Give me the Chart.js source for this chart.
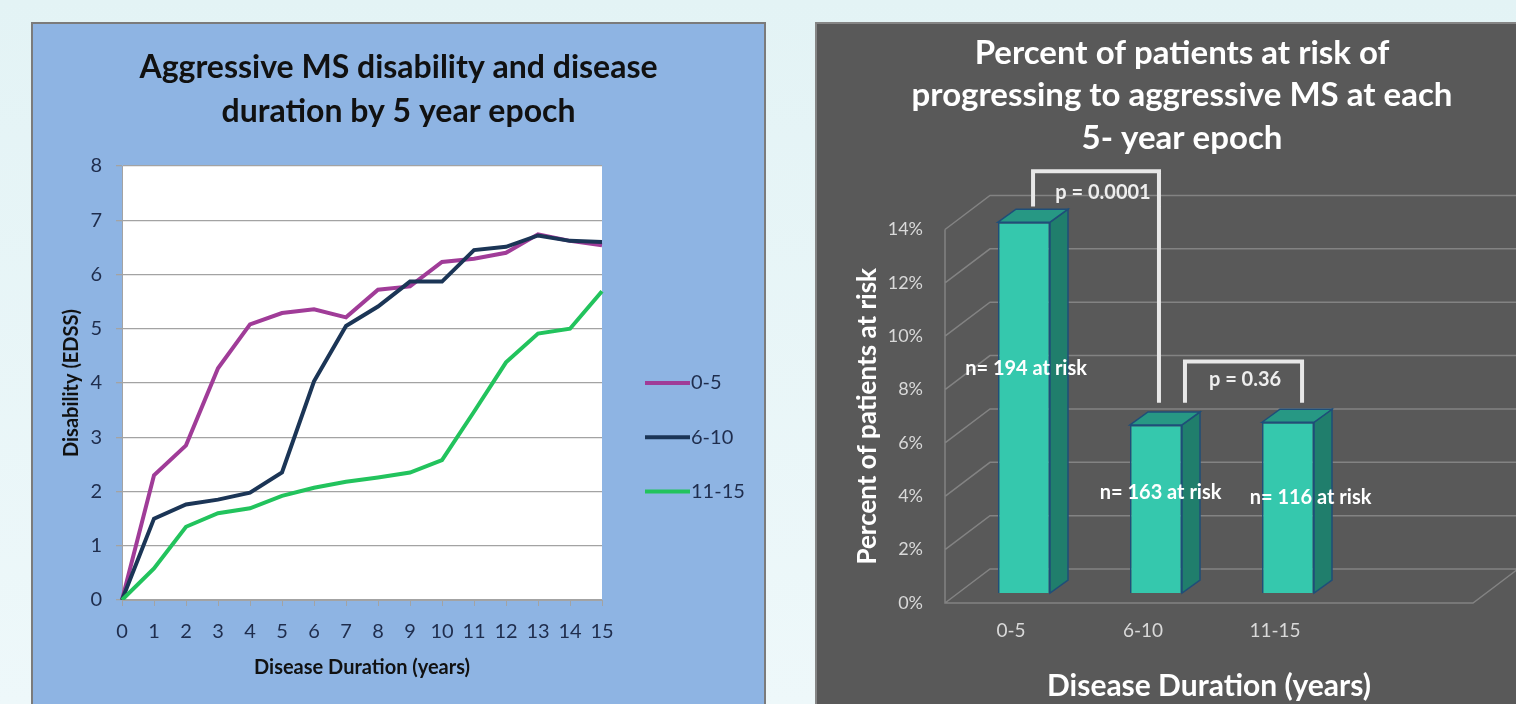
<!DOCTYPE html>
<html>
<head>
<meta charset="utf-8">
<script src="https://cdn.jsdelivr.net/npm/chart.js@4.4.1/dist/chart.umd.min.js"></script>
<style>
  html, body { margin: 0; padding: 0; width: 1516px; height: 704px; overflow: hidden;
    background: linear-gradient(to bottom, #e3f3f5 0%, #eef8fa 100%); }
  #leftPanel { position: absolute; left: 31px; top: 22px; width: 731px; height: 700px;
    background: #8eb4e3; border: 2px solid #7b7b7b; overflow: hidden; }
  #rightPanel { position: absolute; left: 815px; top: 22px; width: 760px; height: 700px;
    background: #595959; border: 2px solid #858585; overflow: hidden; }
  canvas { position: absolute; left: 0; top: 0; }
</style>
</head>
<body>
<div id="leftPanel"><canvas id="lineChart" width="731" height="680"></canvas></div>
<div id="rightPanel"><canvas id="barChart" width="730" height="680"></canvas></div>
<script>
// left chart: disability (EDSS) by disease duration, one line per epoch
var years = ["0", "1", "2", "3", "4", "5", "6", "7", "8", "9", "10", "11", "12", "13", "14", "15"];
var epoch0to5 = [0, 2.30, 2.85, 4.27, 5.08, 5.29, 5.36, 5.21, 5.72, 5.78, 6.23, 6.29, 6.40, 6.74, 6.62, 6.54];
var epoch6to10 = [0, 1.50, 1.76, 1.85, 1.98, 2.35, 4.03, 5.05, 5.41, 5.87, 5.87, 6.45, 6.51, 6.72, 6.62, 6.60];
var epoch11to15 = [0, 0.58, 1.35, 1.60, 1.69, 1.92, 2.07, 2.18, 2.26, 2.35, 2.58, 3.47, 4.38, 4.91, 5.00, 5.69];

// right chart: percent at risk per epoch
var riskGroups = ["0-5", "6-10", "11-15", ""];
var percentAtRisk = [13.9, 6.3, 6.4, null];
var atRiskCounts = [194, 163, 116];
var pValues = ["0.0001", "0.36"];

var FONT = "Lato, 'DejaVu Sans', sans-serif";
Chart.defaults.font.family = FONT;

var plotBackground = {
    id: "plotBackground",
    beforeDraw: function(chart) {
        var a = chart.chartArea, ctx = chart.ctx;
        ctx.save();
        ctx.fillStyle = "#ffffff";
        ctx.fillRect(a.left, a.top, a.right - a.left, a.bottom - a.top);
        ctx.restore();
    }
};

var tickColor = "#1f2d4d";
var gridGrey = "#a3a3a3";

// legend drawn next to the plot, rows lined up with the 4 / 3 / 2 gridlines
var sideLegend = {
    id: "sideLegend",
    afterDraw: function(chart) {
        var ctx = chart.ctx, a = chart.chartArea, ys = chart.scales.y;
        ctx.save();
        ctx.font = "20px " + FONT;
        ctx.textBaseline = "middle";
        ctx.textAlign = "left";
        chart.data.datasets.forEach(function(ds, i) {
            var py = ys.getPixelForValue(4 - i);
            ctx.strokeStyle = ds.borderColor;
            ctx.lineWidth = 4;
            ctx.beginPath();
            ctx.moveTo(a.right + 43, py);
            ctx.lineTo(a.right + 88, py);
            ctx.stroke();
            ctx.fillStyle = tickColor;
            ctx.fillText(ds.label, a.right + 89, py);
        });
        ctx.restore();
    }
};

new Chart(document.getElementById("lineChart").getContext("2d"), {
    type: "line",
    data: {
        labels: years,
        datasets: [
            { label: "0-5", data: epoch0to5, borderColor: "#a03c98", order: 3 },
            { label: "6-10", data: epoch6to10, borderColor: "#1b3556", order: 2 },
            { label: "11-15", data: epoch11to15, borderColor: "#22c35d", order: 1 }
        ]
    },
    options: {
        responsive: false,
        animation: false,
        elements: {
            line: { borderWidth: 4, tension: 0 },
            point: { radius: 0 }
        },
        plugins: {
            title: {
                display: true,
                text: ["Aggressive MS disability and disease", "duration by 5 year epoch"],
                color: "#111111",
                font: { size: 32, weight: "bold", lineHeight: 44 / 32 },
                padding: { top: 22, bottom: 32 }
            },
            legend: { display: false },
            tooltip: { enabled: false }
        },
        scales: {
            x: {
                grid: { drawOnChartArea: false, tickLength: 6, color: gridGrey },
                border: { color: gridGrey },
                ticks: { color: tickColor, font: { size: 20 }, padding: 14, maxRotation: 0, autoSkip: false },
                title: {
                    display: true, text: "Disease Duration (years)", color: "#111111",
                    font: { size: 20, weight: "bold" }, padding: { top: 0, bottom: 24 }
                },
                afterFit: function(s) { s.height = 104; }
            },
            y: {
                min: 0,
                max: 8,
                ticks: { stepSize: 1, color: tickColor, font: { size: 20 }, padding: 14 },
                grid: { tickLength: 6, color: gridGrey, lineWidth: 1.3 },
                border: { color: gridGrey },
                title: {
                    display: true, text: "Disability (EDSS)", color: "#111111",
                    font: { size: 20, weight: "bold" }, padding: { top: 27, bottom: 0 }
                },
                afterFit: function(s) { s.width = 89; }
            },
            legendSpace: {
                position: "right",
                grid: { display: false, drawTicks: false },
                border: { display: false },
                ticks: { display: false },
                afterFit: function(s) { s.width = 162; }
            }
        }
    },
    plugins: [plotBackground, sideLegend]
});

// 3d look for the bar chart
var wallDepth = { dx: 45, dy: -34 };
var barShift = { dx: 13, dy: -10 };
var barDepth = { dx: 18, dy: -13 };

var threeD = {
    id: "threeD",
    beforeDatasetsDraw: function(chart) {
        var ctx = chart.ctx, a = chart.chartArea, y = chart.scales.y;
        ctx.save();
        ctx.strokeStyle = "#838383";
        ctx.lineWidth = 1.5;
        ctx.beginPath();
        y.ticks.forEach(function(t) {
            var py = y.getPixelForValue(t.value);
            ctx.moveTo(a.left, py);
            ctx.lineTo(a.left + wallDepth.dx, py + wallDepth.dy);
            ctx.lineTo(chart.width, py + wallDepth.dy);
        });
        ctx.moveTo(a.left, a.top);
        ctx.lineTo(a.left, a.bottom);
        ctx.lineTo(a.right, a.bottom);
        ctx.lineTo(a.right + wallDepth.dx, a.bottom + wallDepth.dy);
        ctx.stroke();
        ctx.restore();

        ctx.save();
        ctx.translate(barShift.dx, barShift.dy);
    },
    afterDatasetsDraw: function(chart) {
        var ctx = chart.ctx;
        var values = chart.data.datasets[0].data;
        chart.getDatasetMeta(0).data.forEach(function(bar, i) {
            if (values[i] == null) return;
            var l = bar.x - bar.width / 2, r = bar.x + bar.width / 2, t = bar.y, b = bar.base;
            ctx.lineWidth = 1.5;
            ctx.strokeStyle = "#1f4e79";

            ctx.beginPath();
            ctx.moveTo(r, t);
            ctx.lineTo(r + barDepth.dx, t + barDepth.dy);
            ctx.lineTo(r + barDepth.dx, b + barDepth.dy);
            ctx.lineTo(r, b);
            ctx.closePath();
            ctx.fillStyle = "#207e6c";
            ctx.fill();
            ctx.stroke();

            ctx.beginPath();
            ctx.moveTo(l, t);
            ctx.lineTo(l + barDepth.dx, t + barDepth.dy);
            ctx.lineTo(r + barDepth.dx, t + barDepth.dy);
            ctx.lineTo(r, t);
            ctx.closePath();
            ctx.fillStyle = "#279884";
            ctx.fill();
            ctx.stroke();
        });
        ctx.restore();
    }
};

// brackets and text boxes, placed in category / value units
var brackets = [
    { from: 0.167, to: 1.121, top: 16.18, leftEnd: 14.86, rightEnd: 7.51, textX: 0.697, textY: 15.4, p: 0 },
    { from: 1.318, to: 2.205, top: 9.05, leftEnd: 7.51, rightEnd: 7.51, textX: 1.773, textY: 8.37, p: 1 }
];
var riskLabelPos = [
    { x: 0.114, y: 8.78 },
    { x: 1.133, y: 4.13 },
    { x: 2.269, y: 3.94 }
];

var notes = {
    id: "notes",
    afterDraw: function(chart) {
        var ctx = chart.ctx, xs = chart.scales.x, ys = chart.scales.y;
        ctx.save();
        ctx.strokeStyle = "#e8e8e8";
        ctx.lineWidth = 4;
        ctx.textAlign = "center";
        ctx.textBaseline = "middle";
        ctx.font = "bold 20px " + FONT;
        brackets.forEach(function(b) {
            var x1 = xs.getPixelForValue(b.from), x2 = xs.getPixelForValue(b.to);
            var yt = ys.getPixelForValue(b.top);
            ctx.beginPath();
            ctx.moveTo(x1, ys.getPixelForValue(b.leftEnd));
            ctx.lineTo(x1, yt);
            ctx.lineTo(x2, yt);
            ctx.lineTo(x2, ys.getPixelForValue(b.rightEnd));
            ctx.stroke();
            ctx.fillStyle = "#eeeeee";
            ctx.fillText("p = " + pValues[b.p], xs.getPixelForValue(b.textX), ys.getPixelForValue(b.textY));
        });
        ctx.fillStyle = "#ffffff";
        riskLabelPos.forEach(function(p, i) {
            ctx.fillText("n= " + atRiskCounts[i] + " at risk", xs.getPixelForValue(p.x), ys.getPixelForValue(p.y));
        });
        ctx.restore();
    }
};

new Chart(document.getElementById("barChart").getContext("2d"), {
    type: "bar",
    data: {
        labels: riskGroups,
        datasets: [{
            label: "Percent at risk",
            data: percentAtRisk,
            backgroundColor: "#35c8ad",
            borderColor: "#1f4e79",
            borderWidth: 1.5,
            categoryPercentage: 1,
            barPercentage: 0.394,
            clip: false
        }]
    },
    options: {
        responsive: false,
        animation: false,
        plugins: {
            legend: { display: false },
            tooltip: { enabled: false },
            title: {
                display: true,
                text: ["Percent of patients at risk of", "progressing to aggressive MS at each", "5- year epoch"],
                color: "#ffffff",
                font: { size: 33, weight: "bold", lineHeight: 42.5 / 33 },
                padding: { top: 8, bottom: 70 }
            }
        },
        scales: {
            x: {
                grid: { display: false, drawTicks: false },
                border: { display: false },
                ticks: { color: "#d9d9d9", font: { size: 19 }, padding: 16 },
                title: {
                    display: true, text: "Disease Duration (years)", color: "#ffffff",
                    font: { size: 30, weight: "bold" }, padding: { top: 0, bottom: 0 }
                },
                afterFit: function(s) { s.height = 101; }
            },
            y: {
                min: 0,
                max: 14,
                ticks: {
                    stepSize: 2, color: "#d9d9d9", font: { size: 18 }, padding: 22,
                    callback: function(v) { return v + "%"; }
                },
                grid: { display: false, drawTicks: false },
                border: { display: false },
                title: {
                    display: true, text: "Percent of patients at risk", color: "#ffffff",
                    font: { size: 26, weight: "bold" }, padding: { top: 35, bottom: 0 }
                },
                afterFit: function(s) { s.width = 128; }
            },
            side: {
                position: "right",
                grid: { display: false, drawTicks: false },
                border: { display: false },
                ticks: { display: false },
                afterFit: function(s) { s.width = 74; }
            }
        }
    },
    plugins: [threeD, notes]
});
</script>
</body>
</html>
